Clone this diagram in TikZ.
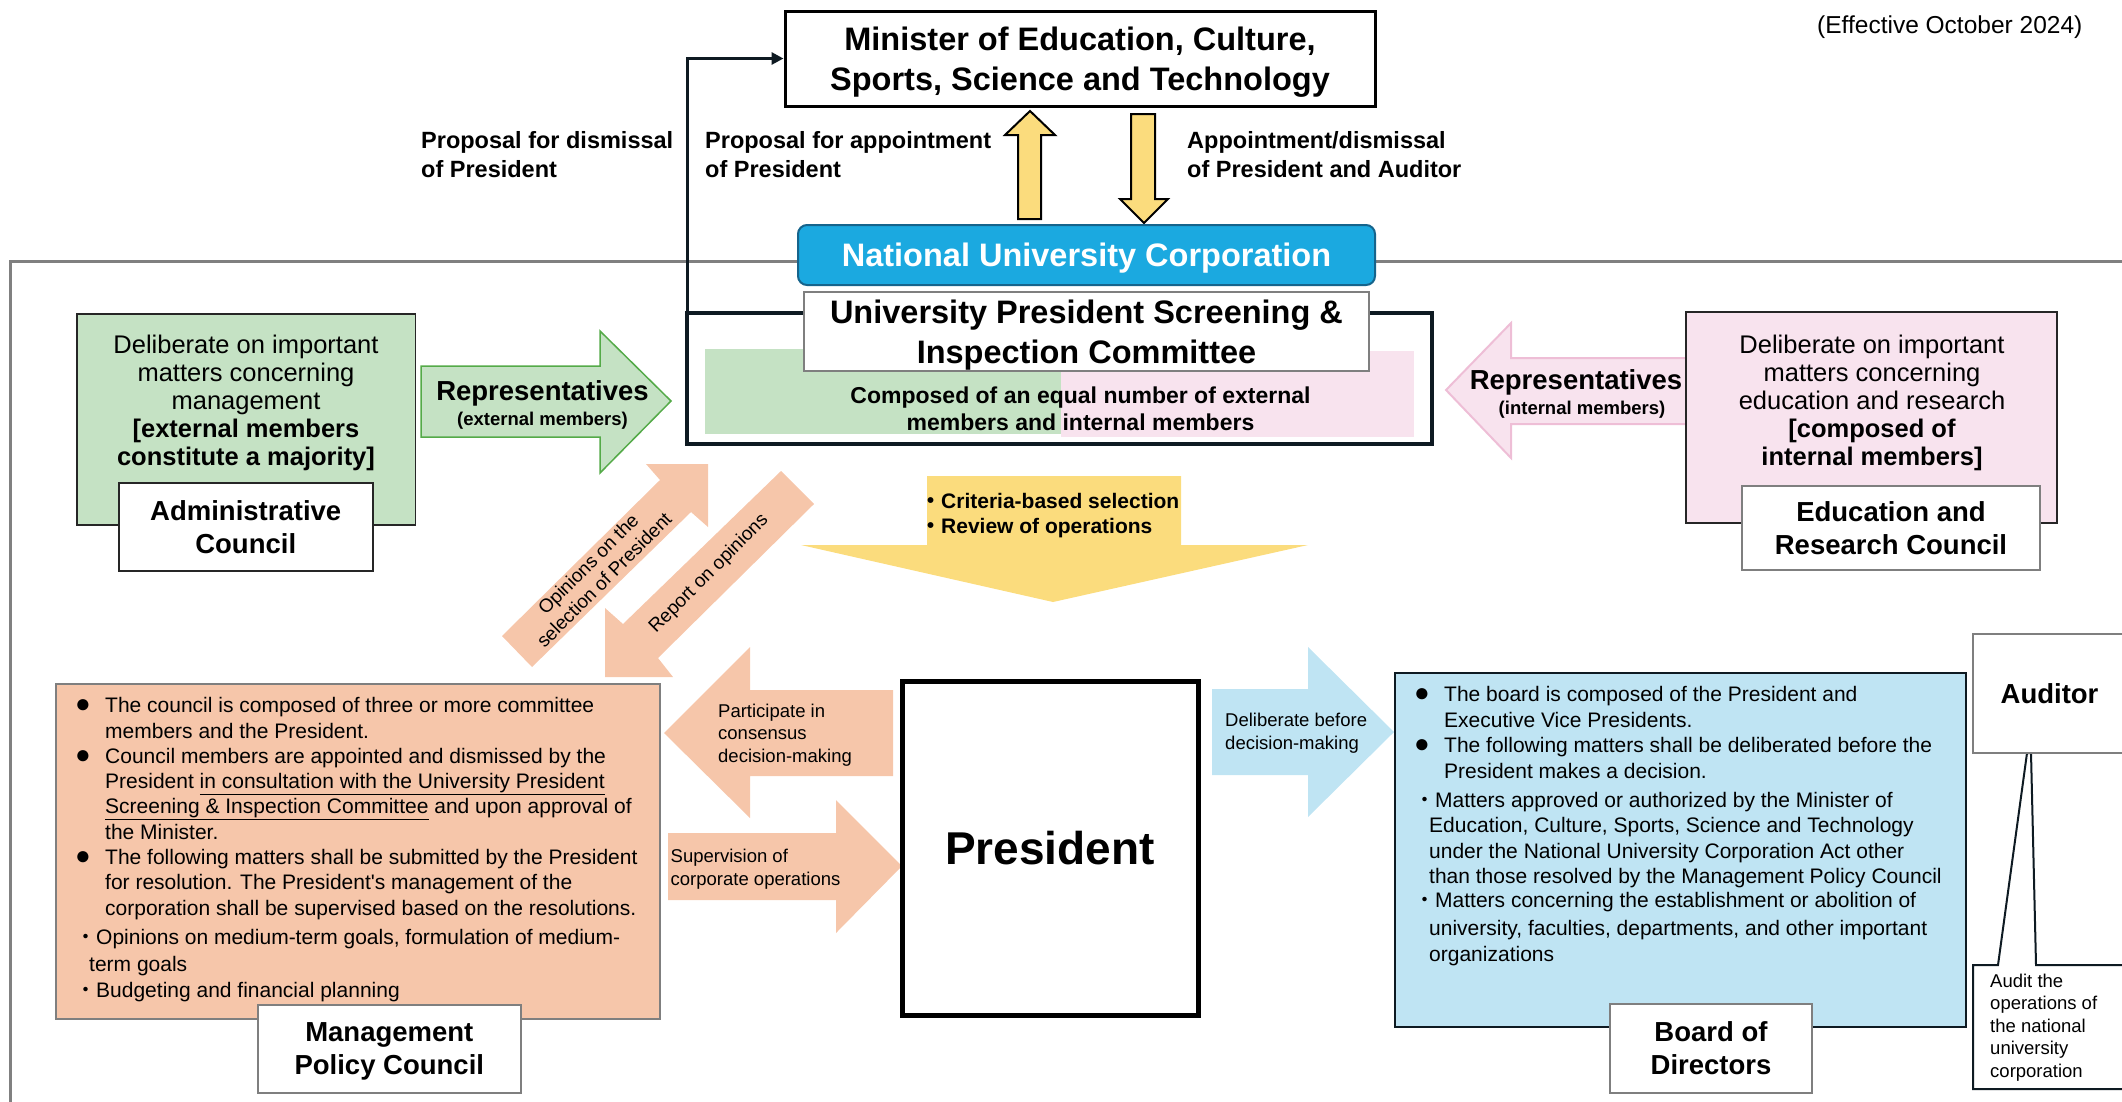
\documentclass[tikz,border=0pt]{standalone}
\usepackage{fontspec}
\setmainfont{Liberation Sans}
\newfontfamily\cjk{Noto Sans CJK JP}
\usetikzlibrary{arrows.meta}

% colours taken from the chart
\definecolor{frameGray}{RGB}{128,128,128}
\definecolor{labelGray}{RGB}{127,127,127}
\definecolor{navy}{RGB}{14,26,34}
\definecolor{mintFill}{RGB}{197,226,196}
\definecolor{mintEdge}{RGB}{84,170,72}
\definecolor{rosFill}{RGB}{248,227,238}
\definecolor{rosEdge}{RGB}{238,190,214}
\definecolor{peach}{RGB}{246,198,170}
\definecolor{skyFill}{RGB}{191,228,243}
\definecolor{sunFill}{RGB}{251,220,125}
\definecolor{nucBlue}{RGB}{27,169,224}
\definecolor{nucEdge}{RGB}{22,100,140}

% font sizes (1 unit = 1pt)
\newcommand\fTitle{\fontsize{32.5}{39.5}\selectfont\bfseries}
\newcommand\fName{\fontsize{27.5}{33}\selectfont\bfseries}
\newcommand\fSub{\fontsize{18.5}{22}\selectfont\bfseries}
\newcommand\fProp{\fontsize{23.5}{29}\selectfont\bfseries}
\newcommand\fBody{\fontsize{25.5}{28}\selectfont}
\newcommand\fComp{\fontsize{23}{27}\selectfont\bfseries}
\newcommand\fList{\fontsize{21}{25.3}\selectfont}
\newcommand\fArrow{\fontsize{18.5}{22.5}\selectfont}
\newcommand\fDiag{\fontsize{19}{22.5}\selectfont}
\newcommand\fPres{\fontsize{46}{52}\selectfont\bfseries}
\newcommand\dotmark{{\cjk ・}}
\newcommand\bigdot{\makebox[30pt][l]{\fontsize{26}{25}\selectfont ●}}

\begin{document}
\begin{tikzpicture}[x=1pt, y=-1pt]

  % Styles for the boxes and the loose texts
  % (multi-line texts are placed by the baseline of their last line)
  \tikzstyle{namebox}=[draw=labelGray, line width=2pt, fill=white, align=center, text depth=0pt, inner sep=0pt, font=\fName]
  \tikzstyle{council}=[draw=black!85, line width=1.5pt, inner sep=0pt]
  \tikzstyle{txt}=[inner sep=0pt, align=left]

  \useasboundingbox (0,0) rectangle (2122,1101);
  \clip (0,0) rectangle (2122,1101);

  % Grey frame of the corporation
  \draw [frameGray, line width=3pt] (10,1110) -- (10,261) -- (2130,261);

  % Minister and the two yellow arrows
  \node [draw, line width=3pt, fill=white, minimum width=590pt, minimum height=95pt, align=center, text depth=0pt, font=\fTitle] (minister) at (1080,58.5) {Minister of Education, Culture,\\Sports, Science and Technology};
  \draw [line width=2pt, fill=sunFill] (1030,111) -- (1055,135) -- (1041,135) -- (1041,219) -- (1018,219) -- (1018,135) -- (1005,135) -- cycle;
  \draw [line width=2pt, fill=sunFill] (1144,223) -- (1168,199) -- (1155,199) -- (1155,114) -- (1131,114) -- (1131,199) -- (1120,199) -- cycle;

  % Screening committee
  \node [draw=navy, line width=4pt, outer sep=0pt, minimum width=745pt, minimum height=131pt] (committee) at (1059.5,378.5) {};
  \fill [mintFill] (705,349) rectangle (1061,434);
  \fill [rosFill] (1061,351) rectangle (1414,437);
  \node [namebox, font=\fTitle, minimum width=565pt, minimum height=79pt] (screening) at (1086.5,331.5) {University President Screening \&\\Inspection Committee};
  \node [draw=nucEdge, line width=2pt, fill=nucBlue, rounded corners=9pt, minimum width=577pt, minimum height=60pt, text=white, text depth=0pt, font=\fTitle] (nuc) at (1086.5,255) {National University Corporation};
  \node [txt, align=center, font=\fComp, anchor=base] (composed) at (1080.5,430) {Composed of an equal number of external\\members and internal members};

  % Proposal for dismissal goes straight up to the minister
  \draw [navy, line width=3pt, -{Triangle[length=12pt, width=12pt]}] (committee.north west) |- (minister.west);

  % Labels of the yellow arrows
  \node [txt, font=\fProp, anchor=base west] (dismissal) at (421,177) {Proposal for dismissal\\of President};
  \node [txt, font=\fProp, anchor=base west] (appointment) at (705,177) {Proposal for appointment\\of President};
  \node [txt, font=\fProp, anchor=base west] (appdismiss) at (1187,177) {Appointment/dismissal\\of President and Auditor};
  \node [txt, font=\fontsize{24.5}{29}\selectfont, anchor=base west] (effective) at (1817,33) {(Effective October 2024)};

  % Administrative Council and its representatives
  \draw [mintEdge, line width=1.5pt, fill=mintFill] (421,366) -- (600,366) -- (600,331) -- (671,401) -- (600,473) -- (600,437) -- (421,437) -- cycle;
  \node [txt, font=\fName, anchor=base] (repext) at (542.5,400) {Representatives};
  \node [txt, font=\fSub, anchor=base] (repextsub) at (542.5,425) {(external members)};
  \node [council, fill=mintFill, minimum width=338.5pt, minimum height=211pt] (admin) at (246.25,419.5) {};
  \node [txt, align=center, font=\fBody, anchor=base] (admintext) at (246,465) {Deliberate on important\\matters concerning\\management\\\textbf{[external members}\\\textbf{constitute a majority]}};
  \node [namebox, draw=black!85, minimum width=254.5pt, minimum height=88pt] (adminlabel) at (245.75,527) {Administrative\\Council};

  % Education and Research Council and its representatives
  \draw [rosEdge, line width=2pt, fill=rosFill] (1686,358) -- (1511,358) -- (1511,323) -- (1446,390) -- (1511,458) -- (1511,424) -- (1686,424);
  \node [txt, font=\fName, anchor=base] (repint) at (1576,389) {Representatives};
  \node [txt, font=\fSub, anchor=base] (repintsub) at (1582,414) {(internal members)};
  \node [council, fill=rosFill, minimum width=371pt, minimum height=211pt] (edu) at (1871.5,417.5) {};
  \node [txt, align=center, font=\fBody, anchor=base] (edutext) at (1872,465) {Deliberate on important\\matters concerning\\education and research\\\textbf{[composed of}\\\textbf{internal members]}};
  \node [namebox, minimum width=298pt, minimum height=84pt] (edulabel) at (1891,528) {Education and\\Research Council};

  % Selection arrow down to the President
  \fill [sunFill] (927,476) -- (1181,476) -- (1181,545) -- (1308,545) -- (1053,602) -- (801,545) -- (927,545) -- cycle;
  \node [txt, font=\fontsize{21}{25}\selectfont\bfseries, anchor=base west] (criteria) at (920,533) {\dotmark Criteria-based selection\\\dotmark Review of operations};

  % Diagonal arrows between committee and policy council
  \fill [peach] (502,636) -- (660,480) -- (646,464) -- (708,464) -- (708,527) -- (691,512) -- (532,667) -- cycle;
  \node [txt, align=center, font=\fDiag, rotate=45] (opinions) at (596,572) {Opinions on the\\selection of President};
  \fill [peach] (781,471) -- (623,624) -- (605,608) -- (605,677) -- (673,677) -- (658,658) -- (814,504) -- cycle;
  \node [txt, font=\fDiag, rotate=45] (report) at (709,574) {Report on opinions};

  % Management Policy Council
  \node [council, draw=labelGray, line width=2pt, fill=peach, minimum width=604pt, minimum height=335pt] (mpc) at (358,851.5) {};
  \node [txt, font=\fList, anchor=base west] (mpctext) at (75,997) {%
    \bigdot The council is composed of three or more committee\\
    \hspace*{30pt}members and the President.\\
    \bigdot Council members are appointed and dismissed by the\\
    \hspace*{30pt}President \underline{in consultation with the University President}\\
    \hspace*{30pt}\underline{Screening \& Inspection Committee} and upon approval of\\
    \hspace*{30pt}the Minister.\\
    \bigdot The following matters shall be submitted by the President\\
    \hspace*{30pt}for resolution. The President\textquotesingle s management of the\\
    \hspace*{30pt}corporation shall be supervised based on the resolutions.\\[4.5pt]
    \dotmark Opinions on medium-term goals, formulation of medium-\\[1.5pt]
    \hspace*{14pt}term goals\\
    \dotmark Budgeting and financial planning};
  \node [namebox, minimum width=263.4pt, minimum height=88pt] (mpclabel) at (389.3,1049) {Management\\Policy Council};

  % Arrows to and from the President
  \fill [peach] (893,690) -- (750,690) -- (750,647) -- (664,733) -- (750,818) -- (750,776) -- (893,776) -- cycle;
  \node [txt, font=\fArrow, anchor=base west] (consensus) at (718,762) {Participate in\\consensus\\decision-making};
  \fill [peach] (668,833) -- (836,833) -- (836,800) -- (902,866) -- (836,933) -- (836,900) -- (668,900) -- cycle;
  \node [txt, font=\fArrow, anchor=base west] (supervision) at (670.5,885) {Supervision of\\corporate operations};
  \node [draw, line width=5pt, fill=white, minimum width=296pt, minimum height=334pt, font=\fPres] (president) at (1050,848) {President};
  \fill [skyFill] (1212,689) -- (1308,689) -- (1308,647) -- (1394,732) -- (1308,817) -- (1308,775) -- (1212,775) -- cycle;
  \node [txt, font=\fArrow, anchor=base west] (deliberate) at (1225,749) {Deliberate before\\decision-making};

  % Board of Directors
  \node [council, draw=navy, line width=2pt, fill=skyFill, minimum width=571pt, minimum height=354pt] (board) at (1680.5,850) {};
  \node [txt, font=\fontsize{21}{25.5}\selectfont, anchor=base west] (boardtext) at (1414,961) {%
    \bigdot The board is composed of the President and\\
    \hspace*{30pt}Executive Vice Presidents.\\
    \bigdot The following matters shall be deliberated before the\\
    \hspace*{30pt}President makes a decision.\\[3.5pt]
    \dotmark Matters approved or authorized by the Minister of\\
    \hspace*{15pt}Education, Culture, Sports, Science and Technology\\
    \hspace*{15pt}under the National University Corporation Act other\\
    \hspace*{15pt}than those resolved by the Management Policy Council\\[-1.5pt]
    \dotmark Matters concerning the establishment or abolition of\\[2.5pt]
    \hspace*{15pt}university, faculties, departments, and other important\\
    \hspace*{15pt}organizations};
  \node [namebox, minimum width=202pt, minimum height=89pt] (boardlabel) at (1711,1048.5) {Board of\\Directors};

  % Auditor with its callout
  \draw [navy, line width=2pt, fill=white] (2130,965) -- (2036,965) -- (2031,753) -- (2027,753) -- (1998,965) -- (1973,965) -- (1973,1089) -- (2130,1089);
  \node [namebox, minimum width=153pt, minimum height=119pt] (auditor) at (2049.5,693.5) {Auditor};
  \node [txt, font=\fArrow, anchor=base west] (audittext) at (1990,1077) {Audit the\\operations of\\the national\\university\\corporation};

\end{tikzpicture}
\end{document}
